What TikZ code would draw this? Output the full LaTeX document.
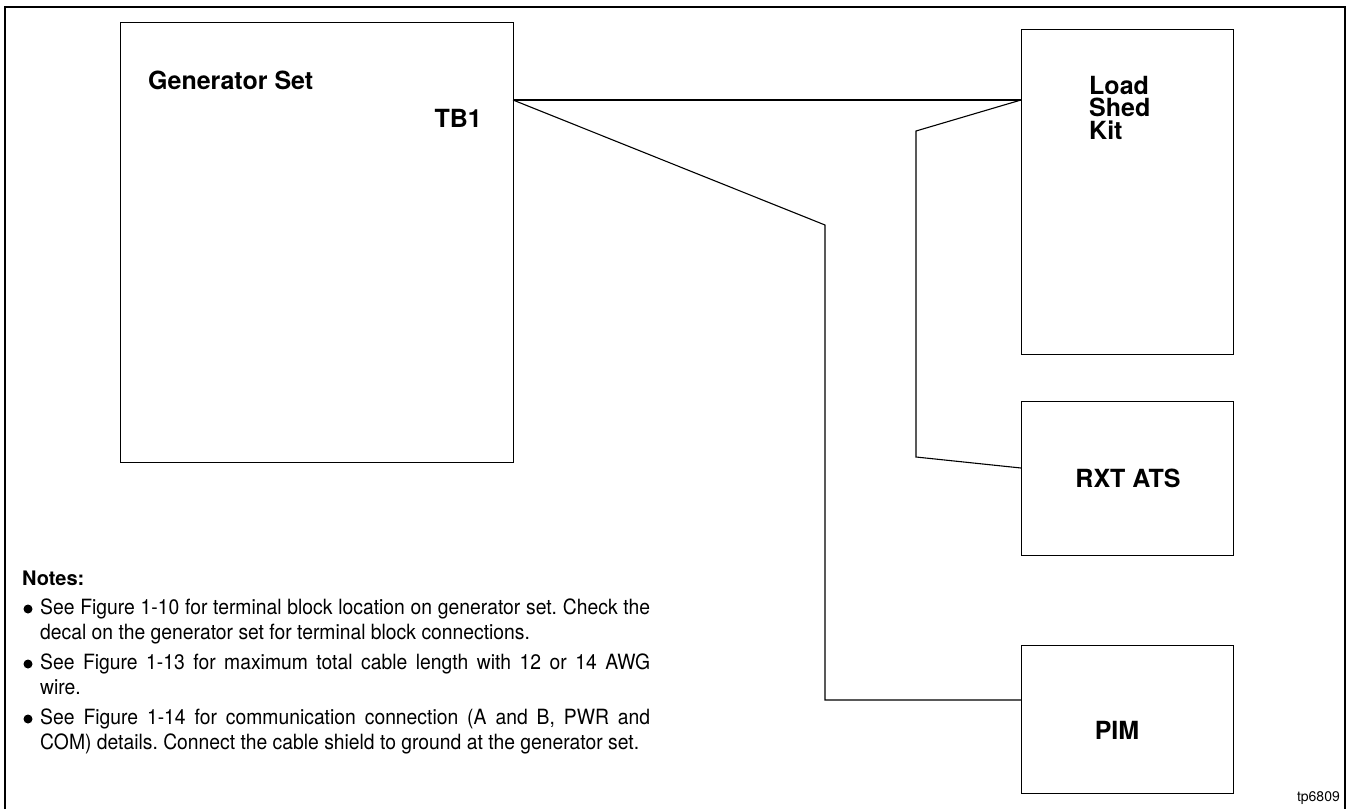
\documentclass[tikz,border=0pt]{standalone}
\usepackage{fontspec}
\setmainfont{TeX Gyre Heros}
\usepackage{tikz}

\tikzset{
  unit/.style={draw, line width=1.3pt, inner sep=0pt, anchor=north west},
  wire/.style={line width=1.1pt},
  tag/.style={font=\fontsize{25}{22.5}\selectfont\bfseries, inner sep=0pt},
  note/.style={font=\fontsize{21}{24.5}\selectfont\addfontfeature{FakeStretch=0.92}\frenchspacing,
    inner sep=0pt, anchor=north west, text width=610pt, align=justify},
}

\begin{document}
\begin{tikzpicture}[x=1pt, y=-1pt]
\useasboundingbox (0,0) rectangle (1351,809);

% frame
\draw[line width=2.2pt] (5,809) -- (5,7) -- (1345,7) -- (1345,809);

% units
\node[unit, minimum width=393pt, minimum height=440pt] (gen) at (120,22) {};
\node[unit, minimum width=212pt, minimum height=325pt] (load) at (1021,29) {};
\node[unit, minimum width=212pt, minimum height=154pt] (rxt) at (1021,401) {};
\node[unit, minimum width=212pt, minimum height=148pt] (pim) at (1021,645) {};

\node[tag, anchor=base west] (gentxt) at (148,89) {Generator Set};
\node[tag, anchor=base east] (tb1) at (482,127) {TB1};
\node[tag, anchor=north west, align=left] (loadtxt) at (1089,76) {Load\\Shed\\Kit};
\node[tag] (rxttxt) at (1128,478) {RXT ATS};
\node[tag] (pimtxt) at (1117,730) {PIM};

% wiring
\coordinate (tbpin) at (513,100);
\coordinate (loadpin) at (tbpin -| load.west);
\coordinate (rxtpin) at (1021,468);
\coordinate (pimpin) at (1021,700);

\draw[wire] (tbpin) -- (loadpin);
\draw[wire] (tbpin) -- (825,225) |- (pimpin);
\draw[wire] (loadpin) -- (916,131) -- (916,457) -- (rxtpin);

% notes
\node[font=\fontsize{20}{24}\selectfont\bfseries, inner sep=0pt, anchor=base west] (notes) at (22,585) {Notes:};
\node[note] (n1) at (40,599) {See Figure 1-10 for terminal block location on generator set. Check the\linebreak decal on the generator set for terminal block connections.};
\node[note] (n2) at (40,654) {See Figure 1-13 for maximum total cable length with 12 or 14 AWG\linebreak wire.};
\node[note] (n3) at (40,709) {See Figure 1-14 for communication connection (A and B, PWR and\linebreak COM) details. Connect the cable shield to ground at the generator set.};
\foreach \n in {n1,n2,n3}
  \fill ([xshift=-12pt,yshift=-10pt]\n.north west) circle (4.5pt);

\node[font=\fontsize{14}{16}\selectfont, inner sep=0pt, anchor=base east] (fig) at (1340,801) {tp6809};
\end{tikzpicture}
\end{document}
